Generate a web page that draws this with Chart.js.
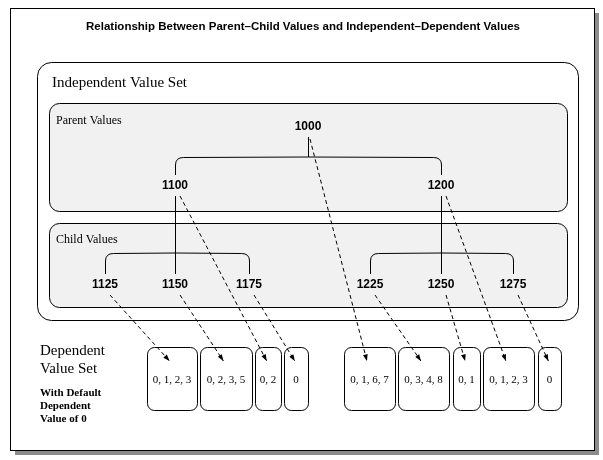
<!DOCTYPE html>
<html>
<head>
<meta charset="utf-8">
<script src="https://cdn.jsdelivr.net/npm/chart.js@4.4.0/dist/chart.umd.min.js"></script>
<style>
  html, body { margin: 0; padding: 0; background: #fff; }
  canvas { display: block; }
</style>
</head>
<body>
<canvas id="diagram" width="603" height="460"></canvas>
<script>
// Tree nodes (names and diagram positions)
const nodeNames = ['1000', '1100', '1200', '1125', '1150', '1175', '1225', '1250', '1275'];
const nodeX = [308, 175, 441, 105, 175, 249, 370, 441, 513];
const nodeY = [127, 186, 186, 285, 285, 285, 285, 285, 285];
const nodeParent = [-1, 0, 0, 1, 1, 1, 2, 2, 2];

// Dependent value sets
const depLabels = ['0, 1, 2, 3', '0, 2, 3, 5', '0, 2', '0', '0, 1, 6, 7', '0, 3, 4, 8', '0, 1', '0, 1, 2, 3', '0'];
const depLeft = [147, 200, 255, 284, 344, 398, 453, 483, 538];
const depRight = [197, 252, 281, 308, 395, 449, 480, 534, 561];
// which node points to which dependent box
const linkFrom = [3, 4, 1, 5, 0, 6, 7, 2, 8];

function roundRect(ctx, x1, y1, x2, y2, r, fill) {
    ctx.beginPath();
    ctx.roundRect(x1, y1, x2 - x1, y2 - y1, r);
    if (fill) { ctx.fillStyle = fill; ctx.fill(); }
    ctx.stroke();
}

const diagramPlugin = {
    id: 'diagram',
    afterDatasetsDraw(chart) {
        const ctx = chart.ctx;
        const xs = chart.scales.x, ys = chart.scales.y;
        const X = v => xs.getPixelForValue(v), Y = v => ys.getPixelForValue(v);
        ctx.save();
        ctx.strokeStyle = '#000';
        ctx.lineWidth = 1;
        // frame with shadow
        ctx.fillStyle = '#8c8c8c';
        ctx.fillRect(X(15), Y(13), X(599) - X(15), Y(455) - Y(13));
        ctx.fillStyle = '#fff';
        ctx.fillRect(X(10), Y(8), X(594) - X(10), Y(450) - Y(8));
        ctx.strokeRect(X(10) + 0.5, Y(8) + 0.5, X(594) - X(10), Y(450) - Y(8));

        ctx.fillStyle = '#000';
        ctx.textAlign = 'center';
        ctx.textBaseline = 'middle';
        ctx.font = 'bold 11.5px "Liberation Sans", Arial, sans-serif';
        ctx.fillText('Relationship Between Parent–Child Values and Independent–Dependent Values', X(303), Y(27));

        // containers
        roundRect(ctx, X(37) + 0.5, Y(62) + 0.5, X(578) + 0.5, Y(320) + 0.5, 14, '#fff');
        roundRect(ctx, X(49) + 0.5, Y(103) + 0.5, X(567) + 0.5, Y(211) + 0.5, 10, '#f1f1f1');
        roundRect(ctx, X(49) + 0.5, Y(223) + 0.5, X(567) + 0.5, Y(307) + 0.5, 10, '#f1f1f1');

        ctx.fillStyle = '#000';
        ctx.textAlign = 'left';
        ctx.font = '15px "DejaVu Serif", "Liberation Serif", serif';
        ctx.font = '15px "Liberation Serif", serif';
        ctx.fillText('Independent Value Set', X(52), Y(83));
        ctx.font = '12px "Liberation Serif", serif';
        ctx.fillText('Parent Values', X(56), Y(121));
        ctx.fillText('Child Values', X(56), Y(240));

        // tree lines
        ctx.beginPath();
        nodeNames.forEach((n, i) => {
            const p = nodeParent[i];
            if (p < 0) return;
            const px = X(nodeX[p]), py = Y(nodeY[p]) + 10;
            const cx = X(nodeX[i]), cy = Y(nodeY[i]) - 11;
            const midY = (p === 0) ? Y(157) : Y(253);
            ctx.moveTo(px + 0.5, py);
            if (cx === px) { ctx.lineTo(cx + 0.5, cy); return; }
            ctx.lineTo(px + 0.5, midY);
            const dir = cx > px ? 1 : -1;
            ctx.lineTo(cx - dir * 8 + 0.5, midY + 0.5);
            ctx.quadraticCurveTo(cx + 0.5, midY + 0.5, cx + 0.5, midY + 8);
            ctx.lineTo(cx + 0.5, cy);
        });
        ctx.stroke();

        // node labels (on small white-ish backgrounds)
        ctx.font = 'bold 12px "Liberation Sans", Arial, sans-serif';
        ctx.textAlign = 'center';
        nodeNames.forEach((n, i) => {
            ctx.fillText(n, X(nodeX[i]), Y(nodeY[i]));
        });

        // dependent boxes
        ctx.font = '11px "Liberation Serif", serif';
        depLabels.forEach((l, i) => {
            roundRect(ctx, X(depLeft[i]) + 0.5, Y(347) + 0.5, X(depRight[i]) + 0.5, Y(410) + 0.5, 7, '#fff');
            ctx.fillStyle = '#000';
            ctx.fillText(l, (X(depLeft[i]) + X(depRight[i])) / 2, Y(380));
        });

        // dashed arrows
        ctx.setLineDash([4, 3]);
        linkFrom.forEach((n, i) => {
            const sx = X(nodeX[n]) + (n === 0 ? 2 : 5), sy = Y(nodeY[n]) + (n === 0 ? 12 : 10);
            const ex = X(depLeft[i] + (depRight[i] - depLeft[i]) * 0.45), ey = Y(361);
            ctx.beginPath();
            ctx.moveTo(sx, sy);
            ctx.lineTo(ex, ey);
            ctx.stroke();
            const a = Math.atan2(ey - sy, ex - sx);
            ctx.save();
            ctx.setLineDash([]);
            ctx.beginPath();
            ctx.moveTo(ex, ey);
            ctx.lineTo(ex - 7 * Math.cos(a - 0.35), ey - 7 * Math.sin(a - 0.35));
            ctx.lineTo(ex - 7 * Math.cos(a + 0.35), ey - 7 * Math.sin(a + 0.35));
            ctx.closePath();
            ctx.fill();
            ctx.restore();
        });
        ctx.setLineDash([]);

        // left labels
        ctx.textAlign = 'left';
        ctx.font = '15px "Liberation Serif", serif';
        ctx.fillText('Dependent', X(40), Y(351));
        ctx.fillText('Value Set', X(40), Y(369));
        ctx.font = 'bold 11px "Liberation Serif", serif';
        ctx.fillText('With Default', X(40), Y(393));
        ctx.fillText('Dependent', X(40), Y(406));
        ctx.fillText('Value of 0', X(40), Y(419));
        ctx.restore();
    }
};

new Chart(document.getElementById('diagram'), {
    type: 'scatter',
    data: {
        datasets: [{
            data: nodeNames.map((n, i) => ({ x: nodeX[i], y: nodeY[i] })),
            pointRadius: 0
        }]
    },
    options: {
        responsive: false,
        animation: false,
        layout: { padding: 0 },
        plugins: { legend: { display: false }, tooltip: { enabled: false } },
        scales: {
            x: { type: 'linear', min: 0, max: 603, display: false },
            y: { type: 'linear', min: 0, max: 460, reverse: true, display: false }
        }
    },
    plugins: [diagramPlugin]
});
</script>
</body>
</html>
